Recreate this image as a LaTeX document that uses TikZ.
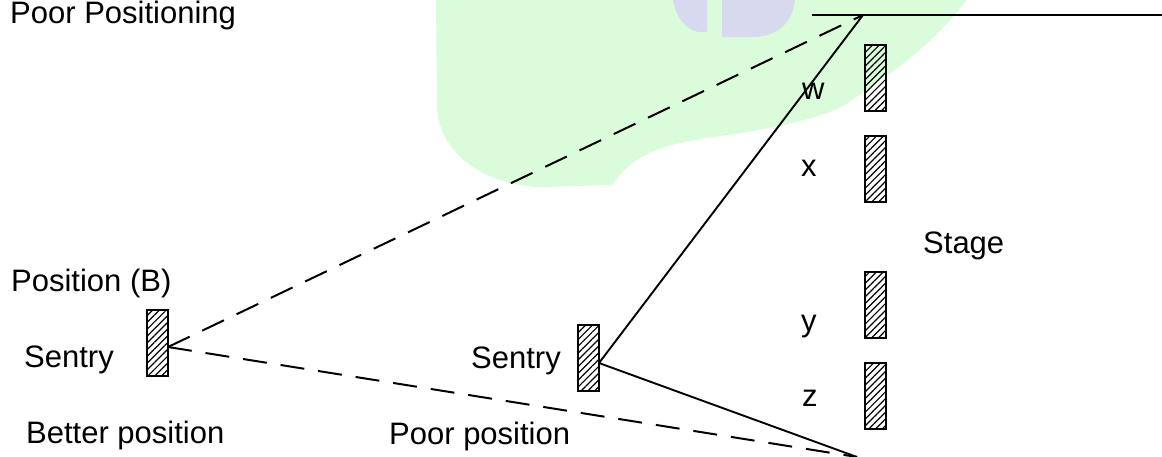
\documentclass[tikz,border=0pt]{standalone}
\usepackage{fontspec}
\setmainfont{Liberation Sans}
\usetikzlibrary{patterns.meta}
\definecolor{blobgreen}{HTML}{DAFCDA}
\definecolor{blobblue}{HTML}{D7D9EF}
\tikzset{
  lbl/.style={font=\fontsize{31}{36}\selectfont, inner sep=0pt, anchor=base west, text=black},
  sentrybox/.style={draw, line width=1.9pt, minimum width=21pt, minimum height=66pt,
    inner sep=0pt, outer sep=0pt,
    pattern={Lines[angle=45, distance=4.8pt, line width=1.2pt]}},
  sightdash/.style={line width=2pt, dash pattern=on 24pt off 14pt},
  sightline/.style={line width=1.9pt}
}
\begin{document}
\begin{tikzpicture}[x=1pt, y=-1pt]
\useasboundingbox (0,0) rectangle (1162,456);
% background blob
\fill[blobgreen] (436,-2) -- (437,110)
  .. controls (440,150) and (480,185) .. (540,187)
  -- (612,185)
  .. controls (630,160) and (650,145) .. (720,136)
  .. controls (790,126) and (830,115) .. (848,103)
  .. controls (880,80) and (930,50) .. (968,-2) -- cycle;
\fill[blobblue] (673,0) .. controls (676,20) and (690,32) .. (700,32) -- (707,32) -- (707,0) -- cycle;
\fill[blobblue] (722,0) -- (722,37) -- (752,37) .. controls (780,37) and (793,20) .. (795,0) -- cycle;
% texts
\node[lbl] (t1) at (10,23) {Poor Positioning};
\node[lbl] (t2) at (11,291) {Position (B)};
\node[lbl] (t3) at (24,367) {Sentry};
\node[lbl] (t4) at (26,443) {Better position};
\node[lbl] (t5) at (471,368) {Sentry};
\node[lbl] (t6) at (389,444) {Poor position};
\node[lbl] (tw) at (802,99) {w};
\node[lbl] (tx) at (801,176) {x};
\node[lbl] (ty) at (801,331) {y};
\node[lbl] (tz) at (802,406) {z};
\node[lbl] (ts) at (923,253) {Stage};
% sentries
\node[sentrybox] (s1) at (157.5,343) {};
\node[sentrybox] (s2) at (588.5,358) {};
\node[sentrybox] (sw) at (875.5,78) {};
\node[sentrybox] (sx) at (875.5,169) {};
\node[sentrybox] (sy) at (875.5,305) {};
\node[sentrybox] (sz) at (875.5,396) {};
% points
\coordinate (tl) at (812,15);
\coordinate (tr) at (1162,15);
\coordinate (apex) at (863,15);
\coordinate (bot) at (857,457);
% lines
\draw[sightline] (tl) -- (tr);
\draw[sightdash] ([yshift=-4pt]s1.east) -- (apex);
\draw[sightdash] ([yshift=-4pt]s1.east) -- (bot);
\draw[sightline] ([yshift=-5pt]s2.east) -- (apex);
\draw[sightline] ([yshift=-5pt]s2.east) -- (bot);
\end{tikzpicture}
\end{document}
